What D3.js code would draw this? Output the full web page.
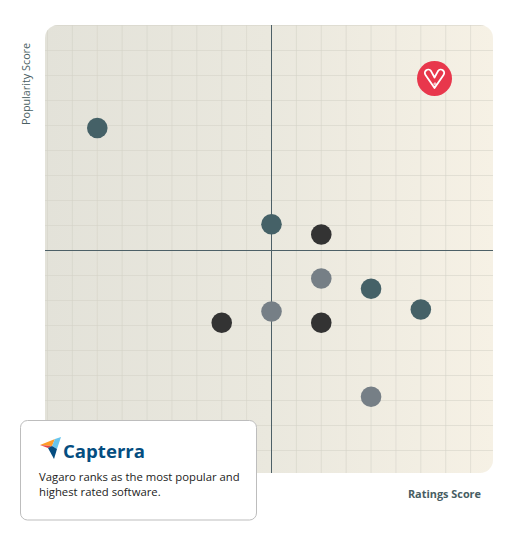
<!DOCTYPE html>
<html><head><meta charset="utf-8">
<script src="https://cdn.jsdelivr.net/npm/d3@7/dist/d3.min.js"></script>
<style>html,body{margin:0;padding:0;background:#fff;}svg{display:block;}</style>
</head><body>
<svg id="chart" width="514" height="540"></svg>
<script>
// Data (grid units, origin at the quadrant centre)
const products = ["Vagaro","A","B","C","D","E","F","G","H","I","J"];
const ratingsScore    = [6.55, -7.0, 0.0, 2.0, 2.0, 4.0, 6.0, 0.0, 2.0, 4.0, -2.0];
const popularityScore = [6.88,  4.9, 1.05, 0.64, -1.12, -1.53, -2.36, -2.44, -2.89, -5.85, -2.89];
const groups = ["vagaro","teal","teal","dark","grey","teal","teal","grey","dark","grey","dark"];
const xLabel = "Ratings Score", yLabel = "Popularity Score";
const captionLines = ["Vagaro ranks as the most popular and", "highest rated software."];

const colors = {teal:"#456167", dark:"#333333", grey:"#767f86", vagaro:"#e8374c"};
const FONT = "'Open Sans', Lato, sans-serif";
const svg = d3.select("#chart");
const plot = {x0:45, y0:25, x1:493, y1:473, r:13};
const x = d3.scaleLinear().domain([-9, 9]).range([47.5, 495.5]);
const y = d3.scaleLinear().domain([-9, 9]).range([475.5, 25.5]);

const defs = svg.append("defs");
const grad = defs.append("linearGradient").attr("id","bg").attr("x1","0").attr("x2","1").attr("y1","0").attr("y2","0");
grad.append("stop").attr("offset","0").attr("stop-color","#e3e2d9");
grad.append("stop").attr("offset","0.5").attr("stop-color","#eae8de");
grad.append("stop").attr("offset","1").attr("stop-color","#f6f1e5");
defs.append("clipPath").attr("id","clip").append("rect")
  .attr("x",plot.x0).attr("y",plot.y0).attr("width",plot.x1-plot.x0).attr("height",plot.y1-plot.y0).attr("rx",plot.r);

svg.append("rect").attr("x",plot.x0).attr("y",plot.y0).attr("width",plot.x1-plot.x0).attr("height",plot.y1-plot.y0)
  .attr("rx",plot.r).attr("fill","url(#bg)");

const g = svg.append("g").attr("clip-path","url(#clip)");
const ticks = d3.range(-9, 10);
g.selectAll(".vg").data(ticks).join("line")
  .attr("x1",d=>x(d)).attr("x2",d=>x(d)).attr("y1",plot.y0).attr("y2",plot.y1)
  .attr("stroke","#d3d2c6").attr("stroke-opacity",0.55).attr("stroke-width",1);
g.selectAll(".hg").data(ticks).join("line")
  .attr("y1",d=>y(d)).attr("y2",d=>y(d)).attr("x1",plot.x0).attr("x2",plot.x1)
  .attr("stroke","#d3d2c6").attr("stroke-opacity",0.55).attr("stroke-width",1);
// quadrant axes
g.append("line").attr("x1",x(0)).attr("x2",x(0)).attr("y1",plot.y0).attr("y2",plot.y1).attr("stroke","#4d6067").attr("stroke-width",1);
g.append("line").attr("y1",y(0)).attr("y2",y(0)).attr("x1",plot.x0).attr("x2",plot.x1).attr("stroke","#4d6067").attr("stroke-width",1);

const pts = products.map((p,i)=>({p, rx:ratingsScore[i], py:popularityScore[i], grp:groups[i]}));
g.selectAll(".dot").data(pts.filter(d=>d.grp!=="vagaro")).join("circle")
  .attr("cx",d=>x(d.rx)).attr("cy",d=>y(d.py)).attr("r",10.3).attr("fill",d=>colors[d.grp]);

// Vagaro marker
const v = pts.find(d=>d.grp==="vagaro");
const vg = g.append("g").attr("transform",`translate(${x(v.rx)},${y(v.py)})`);
vg.append("circle").attr("r",17.5).attr("fill",colors.vagaro);
vg.append("path")
  .attr("d","M0,9.5 L-9,-3.5 A3.3,3.3 0 0 1 -3.6,-7.6 L0,-1 L3.6,-7.6 A3.3,3.3 0 0 1 9,-3.5 Z")
  .attr("fill","none").attr("stroke","#fff").attr("stroke-width",1.8).attr("stroke-linejoin","round");
vg.append("circle").attr("cx",0.5).attr("cy",5.5).attr("r",1.1).attr("fill","none").attr("stroke","#fff").attr("stroke-width",0.9);

// Axis labels
svg.append("text").attr("transform","translate(30,84) rotate(-90)").attr("text-anchor","middle")
  .attr("font-family",FONT).attr("font-size",10.8).attr("fill","#4a5f63").text(yLabel);
svg.append("text").attr("x",481).attr("y",498).attr("text-anchor","end")
  .attr("font-family",FONT).attr("font-weight",700).attr("font-size",10.9).attr("fill","#475d63").text(xLabel);

// Capterra box
const bx = svg.append("g");
bx.append("rect").attr("x",20.5).attr("y",420.5).attr("width",236).attr("height",99.5).attr("rx",7)
  .attr("fill","#fff").attr("stroke","#bdbdbd").attr("stroke-width",1);
// logo
bx.append("polygon").attr("points","40,445 55,439 52,446").attr("fill","#ff9d28");
bx.append("polygon").attr("points","55,439 61,437 57,449 52,446").attr("fill","#68c5ed");
bx.append("polygon").attr("points","40,445 52,446 48,448").attr("fill","#e54747");
bx.append("polygon").attr("points","48,448 52,446 57,449 54,459").attr("fill","#044d80");
bx.append("text").attr("x",63).attr("y",457.5).attr("font-family",FONT)
  .attr("font-weight",700).attr("font-size",18.6).attr("fill","#044d80").text("Capterra");
bx.selectAll(".cap").data(captionLines).join("text")
  .attr("x",39).attr("y",(d,i)=>481+i*15).attr("font-family",FONT)
  .attr("font-size",11.3).attr("fill","#222").text(d=>d);
</script>
</body></html>
